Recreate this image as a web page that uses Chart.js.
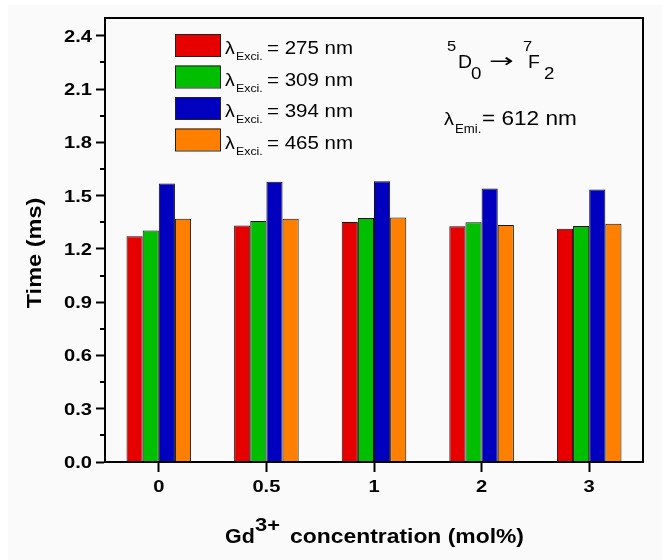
<!DOCTYPE html>
<html>
<head>
<meta charset="utf-8">
<script src="https://cdn.jsdelivr.net/npm/chart.js@4/dist/chart.umd.min.js"></script>
<style>
  body { margin: 0; background: #fff; }
  #wrap { width: 662px; height: 560px; }
</style>
</head>
<body>
<div id="wrap"><canvas id="myChart"></canvas></div>
<script>
// Gd3+ concentration (mol%)
const concentrations = ["0", "0.5", "1", "2", "3"];
// excitation wavelengths (nm) for each series
const excitations = [275, 309, 394, 465];
// lifetimes (ms)
const time275 = [1.271, 1.331, 1.352, 1.327, 1.314];
const time309 = [1.304, 1.357, 1.374, 1.350, 1.329];
const time394 = [1.568, 1.578, 1.581, 1.540, 1.534];
const time465 = [1.369, 1.369, 1.376, 1.335, 1.342];
const yMajorTicks = [0, 0.3, 0.6, 0.9, 1.2, 1.5, 1.8, 2.1, 2.4];
const yMinorTicks = [0.15, 0.45, 0.75, 1.05, 1.35, 1.65, 1.95, 2.25];

const colors = ["#e60000", "#00be00", "#0000be", "#ff8000"];
const series = [time275, time309, time394, time465];
const FONT = "Liberation Sans";

Chart.defaults.font.family = FONT;
Chart.defaults.color = "#000";

// text stretched horizontally like the original figure
const txt = (ctx, s, x, y, size, bold, sx, align, family) => {
  ctx.save();
  ctx.font = (bold ? "bold " : "") + size + "px '" + (family || FONT) + "'";
  const w = ctx.measureText(s).width * sx;
  let x0 = x;
  if (align == "center") x0 = x - w / 2;
  if (align == "right") x0 = x - w;
  ctx.translate(x0, y);
  ctx.scale(sx, 1);
  ctx.textAlign = "left";
  ctx.fillText(s, 0, 0);
  ctx.restore();
  return w;
};

const extras = {
  id: "extras",
  beforeDraw(chart) {
    const ctx = chart.ctx;
    ctx.save();
    ctx.fillStyle = "#fff";
    ctx.fillRect(0, 0, chart.width, chart.height);
    ctx.fillStyle = "#fafafa";
    ctx.fillRect(8, 5, chart.width - 8, chart.height - 5);
    ctx.restore();
  },
  afterDraw(chart) {
    const ctx = chart.ctx;
    const a = chart.chartArea;
    const x = chart.scales.x;
    const y = chart.scales.y;
    ctx.save();
    ctx.strokeStyle = "#000";
    ctx.lineWidth = 2;
    ctx.strokeRect(a.left, a.top, a.right - a.left, a.bottom - a.top);
    // minor ticks
    yMinorTicks.forEach((v) => {
      const py = Math.round(y.getPixelForValue(v));
      ctx.beginPath();
      ctx.moveTo(a.left - 5, py);
      ctx.lineTo(a.left, py);
      ctx.stroke();
    });

    ctx.fillStyle = "#000";
    ctx.textBaseline = "alphabetic";
    // tick labels
    y.ticks.forEach((t) => {
      txt(ctx, t.value.toFixed(1), a.left - 13, y.getPixelForValue(t.value) + 6, 16.5, true, 1.22, "right");
    });
    x.ticks.forEach((t, i) => {
      txt(ctx, concentrations[i], x.getPixelForTick(i), a.bottom + 30, 16.5, true, 1.22, "center");
    });

    // legend
    chart.data.datasets.forEach((ds, i) => {
      const top = 34 + i * 31.5;
      ctx.fillStyle = ds.backgroundColor;
      ctx.fillRect(175, top, 45, 22);
      ctx.lineWidth = 1;
      ctx.strokeStyle = "#222";
      ctx.strokeRect(175.5, top + 0.5, 45, 22);
      ctx.fillStyle = "#000";
      txt(ctx, "λ", 225, top + 20, 17.5, false, 1.12);
      txt(ctx, "Exci.", 236, top + 26, 11, false, 1.12);
      txt(ctx, "= " + excitations[i] + " nm", 267, top + 20, 17.5, false, 1.17);
    });

    // transition label
    txt(ctx, "5", 447, 51, 15, false, 1.1);
    txt(ctx, "D", 458, 68, 18.5, false, 1.05);
    txt(ctx, "0", 471, 79, 17, false, 1.1);
    txt(ctx, "→", 489, 67, 19, false, 1.55, "left", "DejaVu Sans");
    txt(ctx, "7", 523, 51, 15, false, 1.1);
    txt(ctx, "F", 528, 68, 18.5, false, 1.05);
    txt(ctx, "2", 544, 79, 17, false, 1.1);
    txt(ctx, "λ", 444, 125, 18, false, 1.1);
    txt(ctx, "Emi.", 455, 133, 12, false, 1.1);
    txt(ctx, "= 612 nm", 482, 125, 20, false, 1.13);

    // axis titles
    ctx.save();
    ctx.translate(41, 253);
    ctx.rotate(-Math.PI / 2);
    txt(ctx, "Time (ms)", 0, 0, 21, true, 1.12, "center");
    ctx.restore();
    txt(ctx, "Gd", 225, 543, 21, true, 1.02);
    txt(ctx, "3+", 255, 531, 19, true, 1.15);
    txt(ctx, "concentration (mol%)", 290, 543, 21, true, 1.09);
    ctx.restore();
  },
};

new Chart("myChart", {
  type: "bar",
  data: {
    labels: concentrations,
    datasets: series.map((d, i) => ({
      label: "λExci. = " + excitations[i] + " nm",
      data: d,
      backgroundColor: colors[i],
      borderColor: "#111",
      borderWidth: 1,
      categoryPercentage: 0.6,
      barPercentage: 1,
    })),
  },
  options: {
    responsive: true,
    maintainAspectRatio: false,
    animation: false,
    layout: { padding: { top: 18, right: 19, left: 0, bottom: 0 } },
    plugins: { legend: { display: false }, tooltip: { enabled: false } },
    scales: {
      x: {
        offset: true,
        grid: { offset: false, drawOnChartArea: false, drawTicks: true, tickLength: 10, tickColor: "#000", tickWidth: 2 },
        border: { display: true, color: "#000", width: 2 },
        ticks: { display: false },
        afterFit: (s) => { s.height = 98; },
      },
      y: {
        min: 0,
        max: 2.5,
        afterBuildTicks: (s) => { s.ticks = yMajorTicks.map((v) => ({ value: v })); },
        grid: { drawOnChartArea: false, drawTicks: true, tickLength: 9, tickColor: "#000", tickWidth: 2 },
        border: { display: true, color: "#000", width: 2 },
        ticks: { display: false },
        afterFit: (s) => { s.width = 105; },
      },
    },
  },
  plugins: [extras],
});
</script>
</body>
</html>
